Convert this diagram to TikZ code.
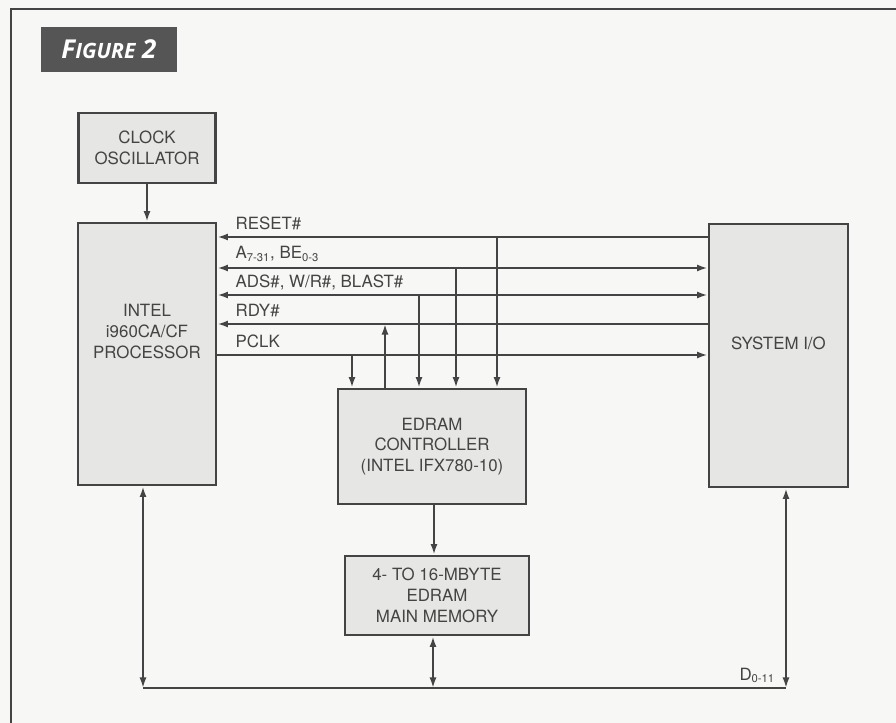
\documentclass[tikz,border=0pt]{standalone}
\usepackage{fontspec}
\setmainfont{TeX Gyre Heros}
\newfontfamily\figfont{Open Sans}
\usepackage{xcolor}
\usetikzlibrary{arrows.meta}
\definecolor{ink}{RGB}{68,68,68}
\definecolor{boxgray}{RGB}{230,230,228}
\definecolor{paper}{RGB}{247,247,245}
\definecolor{tabgray}{RGB}{85,85,85}

\begin{document}
\begin{tikzpicture}[
    x=0.025cm, y=-0.025cm,
    box/.style={rectangle, draw=ink, line width=2pt, fill=boxgray, text=ink, align=center,
        font=\fontsize{12}{14.8}\selectfont},
    arrow/.style={-{Latex[length=7.5pt,width=5pt]}, draw=ink, line width=1.4pt},
    both/.style={arrow, {Latex[length=7.5pt,width=5pt]}-{Latex[length=7.5pt,width=5pt]}},
    bus/.style={draw=ink, line width=1.4pt},
    sig/.style={anchor=base west, text=ink, font=\fontsize{12}{14}\selectfont, inner sep=0pt}
]
    % Page
    \fill[paper] (0,0) rectangle (896,723);
    \useasboundingbox (0,0) rectangle (896,723);
    \draw[ink, line width=1.4pt] (11,723) -- (11,9) -- (896,9);

    % Nodes
    \node[rectangle, fill=tabgray, minimum width=3.4cm, minimum height=1.125cm, text=white,
        font=\figfont\bfseries\itshape\fontsize{18.5}{20}\selectfont] (fig) at (109,49.5)
        {F{\fontsize{15}{17}\selectfont IGURE} 2};
    \node[box, minimum width=3.425cm, minimum height=1.75cm] (clock) at (147,148) {CLOCK\\OSCILLATOR};
    \node[box, minimum width=3.45cm, minimum height=6.55cm] (proc) at (147,354) {INTEL\\i960CA/CF\\PROCESSOR\\[0.6cm]};
    \node[box, minimum width=3.475cm, minimum height=6.575cm] (sysio) at (778.5,355.5) {SYSTEM I/O\\[0.1cm]};
    \node[box, minimum width=4.7cm, minimum height=2.875cm] (ctrl) at (432,446.5) {EDRAM\\CONTROLLER\\(INTEL IFX780-10)};
    \node[box, minimum width=4.6cm, minimum height=1.975cm] (mem) at (437,595.5) {4- TO 16-MBYTE\\EDRAM\\MAIN MEMORY};

    % Signal levels and taps
    \coordinate (reset) at (0,237);
    \coordinate (addr) at (0,268);
    \coordinate (ads) at (0,295);
    \coordinate (rdy) at (0,324);
    \coordinate (pclk) at (0,355);
    \coordinate (busL) at (143,688);
    \coordinate (busR) at (786,688);

    % Labels
    \node[sig] (resetlbl) at ([xshift=0.45cm, yshift=0.18cm] proc.east |- reset) {RESET\#};
    \node[sig] (addrlbl) at ([xshift=0.45cm, yshift=0.23cm] proc.east |- addr) {A\textsubscript{7-31}, BE\textsubscript{0-3}};
    \node[sig] (adslbl) at ([xshift=0.45cm, yshift=0.18cm] proc.east |- ads) {ADS\#, W/R\#, BLAST\#};
    \node[sig] (rdylbl) at ([xshift=0.45cm, yshift=0.18cm] proc.east |- rdy) {RDY\#};
    \node[sig] (pclklbl) at ([xshift=0.45cm, yshift=0.18cm] proc.east |- pclk) {PCLK};
    \node[sig, anchor=base east] (dlbl) at ([xshift=-0.27cm, yshift=0.2cm] busR) {D\textsubscript{0-11}};

    % Arrows
    \draw[arrow] (clock) -- (proc);
    \draw[arrow] (reset -| sysio.west) -- (reset -| proc.east);
    \draw[both] (addr -| proc.east) -- (addr -| sysio.west);
    \draw[both] (ads -| proc.east) -- (ads -| sysio.west);
    \draw[arrow] (rdy -| sysio.west) -- (rdy -| proc.east);
    \draw[arrow] (pclk -| proc.east) -- (pclk -| sysio.west);
    \draw[arrow] (497,0 |- reset) -- (497,0 |- ctrl.north);
    \draw[arrow] (456,0 |- addr) -- (456,0 |- ctrl.north);
    \draw[arrow] (419,0 |- ads) -- (419,0 |- ctrl.north);
    \draw[arrow] (385,0 |- ctrl.north) -- (385,0 |- rdy);
    \draw[arrow] (352,0 |- pclk) -- (352,0 |- ctrl.north);
    \draw[arrow] (ctrl.south -| 434,0) -- (mem.north -| 434,0);

    % Data bus
    \draw[bus] (busL) -- (busR);
    \draw[both] (proc.south -| busL) -- (busL);
    \draw[both] (mem.south -| 433,0) -- (433,0 |- busL);
    \draw[both] (sysio.south -| busR) -- (busR);
\end{tikzpicture}
\end{document}
